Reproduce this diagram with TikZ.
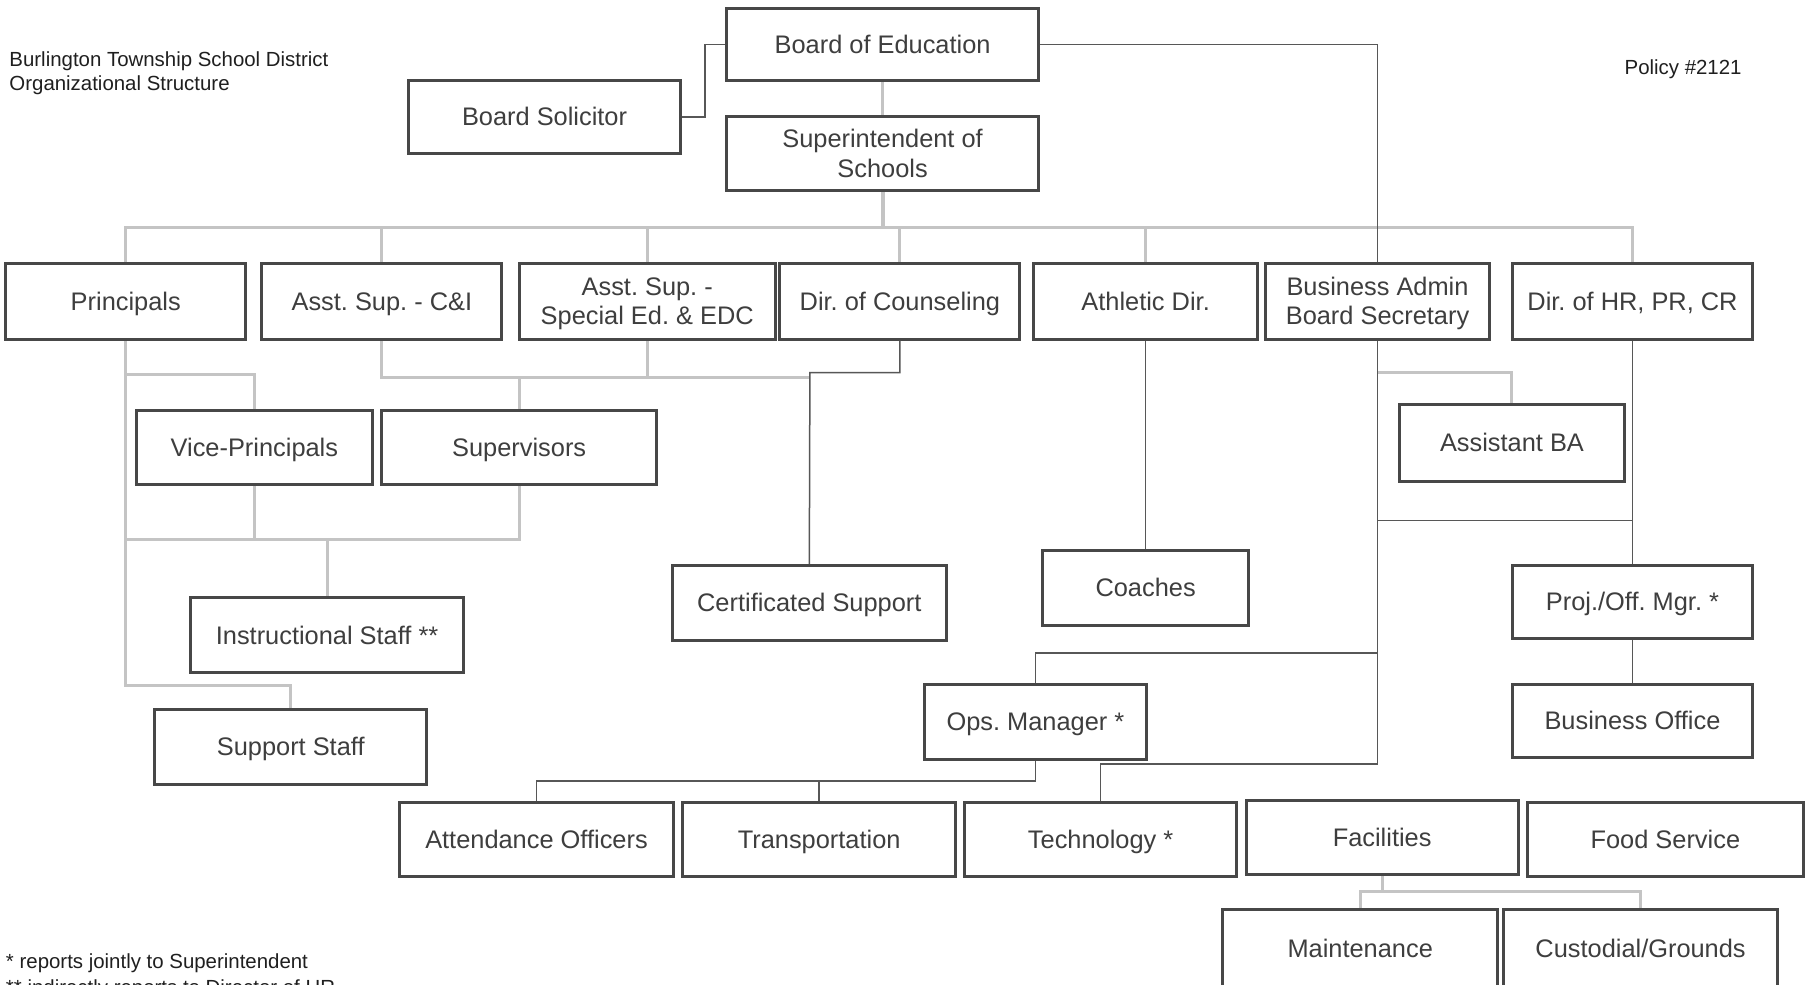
\documentclass[tikz,border=0pt]{standalone}
\usepackage{fontspec}
\setmainfont{Liberation Sans}
\frenchspacing
\usetikzlibrary{backgrounds}
\definecolor{boxc}{HTML}{474747}
\definecolor{txtc}{HTML}{3E3E3E}
\definecolor{lgray}{HTML}{C4C4C4}
\definecolor{dgray}{HTML}{575757}
\newcommand{\bs}{\rule[-4.6pt]{0pt}{24.6pt}}
\begin{document}
\begin{tikzpicture}[x=1pt,y=-1pt,
  orgbox/.style={draw=boxc, line width=2.6pt, fill=white, text=txtc, inner sep=0pt,
    align=center, font=\fontsize{22}{26}\selectfont},
  gl/.style={draw=lgray, line width=2.6pt},
  dl/.style={draw=dgray, line width=1.3pt},
  note/.style={text=black!88, inner sep=0pt, font=\fontsize{17.7}{21}\selectfont}]
\useasboundingbox (0,0) rectangle (1568,853);

% texts
\node[note, anchor=base west] (t1) at (8,57.8) {Burlington Township School District};
\node[note, anchor=base west] (t2) at (8,78.8) {Organizational Structure};
\node[note, anchor=base west] (pol) at (1408,65) {Policy \#2121};
\node[note, anchor=base west] (f1) at (5,839.5) {* reports jointly to Superintendent};
\node[note, anchor=base west] (f2) at (5,862) {** indirectly reports to Director of HR};

% boxes
\node[orgbox, minimum width=270, minimum height=63] (boe) at (765,38.5) {\bs Board of Education};
\node[orgbox, minimum width=236, minimum height=63] (sol) at (472,101.5) {\bs Board Solicitor};
\node[orgbox, minimum width=270, minimum height=64] (sup) at (765,133) {\bs Superintendent of\\\bs Schools};

\node[orgbox, minimum width=208, minimum height=66] (pri) at (109,261) {\bs Principals};
\node[orgbox, minimum width=208, minimum height=66] (csi) at (331,261) {\bs Asst. Sup. - C\&I};
\node[orgbox, minimum width=222, minimum height=66] (sped) at (561,261) {\bs Asst. Sup. -\\\bs Special Ed. \& EDC};
\node[orgbox, minimum width=208, minimum height=66] (cou) at (780,261) {\bs Dir. of Counseling};
\node[orgbox, minimum width=194, minimum height=66] (ath) at (993,261) {\bs Athletic Dir.};
\node[orgbox, minimum width=194, minimum height=66] (bus) at (1194,261) {\bs Business Admin\\\bs Board Secretary};
\node[orgbox, minimum width=208, minimum height=66] (hr) at (1415,261) {\bs Dir. of HR, PR, CR};

\node[orgbox, minimum width=205, minimum height=64] (vp) at (220.5,388) {\bs Vice-Principals};
\node[orgbox, minimum width=238, minimum height=64] (sv) at (450,388) {\bs Supervisors};
\node[orgbox, minimum width=195, minimum height=66] (aba) at (1310.5,384) {\bs Assistant BA};

\node[orgbox, minimum width=237, minimum height=65] (ins) at (283.5,550.5) {\bs Instructional Staff **};
\node[orgbox, minimum width=237, minimum height=65] (cert) at (701.5,522.5) {\bs Certificated Support};
\node[orgbox, minimum width=178, minimum height=65] (coa) at (993,509.5) {\bs Coaches};
\node[orgbox, minimum width=208, minimum height=63] (proj) at (1415,521.5) {\bs Proj./Off. Mgr. *};

\node[orgbox, minimum width=236, minimum height=65] (sst) at (252,647.5) {\bs Support Staff};
\node[orgbox, minimum width=193, minimum height=65] (ops) at (897.5,625.5) {\bs Ops. Manager *};
\node[orgbox, minimum width=208, minimum height=64] (bo) at (1415,625) {\bs Business Office};

\node[orgbox, minimum width=238, minimum height=64] (att) at (465,728) {\bs Attendance Officers};
\node[orgbox, minimum width=236, minimum height=64] (tra) at (710,728) {\bs Transportation};
\node[orgbox, minimum width=236, minimum height=64] (tec) at (954,728) {\bs Technology *};
\node[orgbox, minimum width=236, minimum height=64] (fac) at (1198,726) {\bs Facilities};
\node[orgbox, minimum width=239, minimum height=64] (food) at (1443.5,728) {\bs Food Service};

\node[orgbox, minimum width=238, minimum height=68] (mai) at (1179,822) {\bs Maintenance};
\node[orgbox, minimum width=238, minimum height=68] (cus) at (1422,822) {\bs Custodial/Grounds};

\begin{pgfonlayer}{background}
\fill[white] (0,0) rectangle (1568,853);
% coordinates
\coordinate (bL) at (109,197);
\coordinate (bR) at (1415,197);
\coordinate (pTop) at (109,325);
\coordinate (pMid) at (109,468);
\coordinate (pBot) at (109,594);
\coordinate (cEnd) at (702,327);
\coordinate (cMid) at (450,326);
\coordinate (busA) at (1194,323);
\coordinate (busB) at (1194,451);
\coordinate (busC) at (1194,566);
\coordinate (busD) at (1194,662);
\coordinate (opsB) at (465,677);
\coordinate (facB) at (1198,773);
\coordinate (solB) at (611,101.5);
\coordinate (couB) at (702,323);

% gray connectors
\draw[gl] (boe.south) -- (sup.north);
\draw[gl, line width=3.6pt] (sup.south) -- (sup.south |- bL);
\draw[gl] (pri.north) -- (bL) -- (bR) -- (hr.north);
\foreach \n in {csi,sped,cou,ath} \draw[gl] (\n.north) -- (\n.north |- bL);
\draw[gl] (pri.south) -- (pBot) -| (sst.north);
\draw[gl] (pTop) -| (vp.north);
\draw[gl] (vp.south) -- (vp.south |- pMid);
\draw[gl] (pMid) -| (sv.south);
\draw[gl] (ins.north) -- (ins.north |- pMid);
\draw[gl] (csi.south) |- (cEnd);
\draw[gl] (sped.south) -- (sped.south |- cEnd);
\draw[gl] (sv.north) -- (cMid);
\draw[gl] (busA) -| (aba.north);
\draw[gl] (fac.south) -- (facB);
\draw[gl] (mai.north) |- (cus.north |- facB) -- (cus.north);
\end{pgfonlayer}

% dark connectors
\draw[dl] (sol.east) -- (solB) |- (boe.west);
\draw[dl] (boe.east) -| (bus.north);
\draw[dl] (cou.south) |- (couB) -- (cert.north);
\draw[dl] (ath.south) -- (coa.north);
\draw[dl] (bus.south) -- (busD) -| (tec.north);
\draw[dl] (busB) -- (busB -| hr.south);
\draw[dl] (hr.south) -- (proj.north);
\draw[dl] (proj.south) -- (bo.north);
\draw[dl] (busC) -| (ops.north);
\draw[dl] (ops.south) |- (opsB) -- (att.north);
\draw[dl] (tra.north) -- (tra.north |- opsB);
\end{tikzpicture}
\end{document}
